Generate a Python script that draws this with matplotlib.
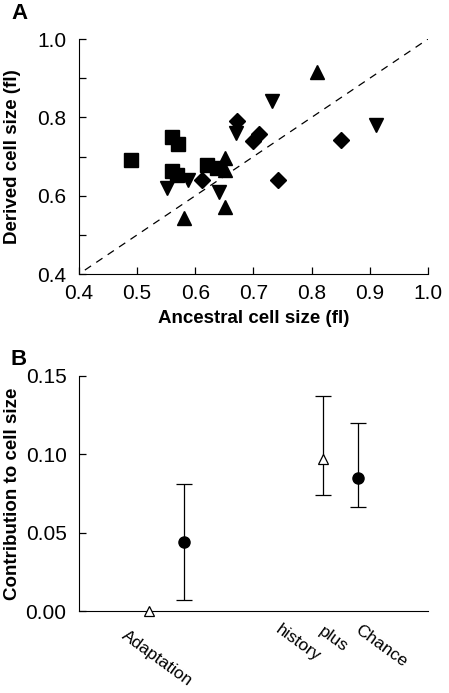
import matplotlib
matplotlib.use("Agg")
import matplotlib.pyplot as plt

plt.rcParams['font.family'] = ['Liberation Sans', 'DejaVu Sans']

# panel A: ancestral vs derived cell size, four groups
sq_anc = [0.49, 0.56, 0.57, 0.56, 0.568, 0.62, 0.637]
sq_der = [0.692, 0.751, 0.732, 0.662, 0.653, 0.679, 0.670]
up_anc = [0.81, 0.58, 0.651, 0.651, 0.651]
up_der = [0.915, 0.542, 0.572, 0.696, 0.666]
dn_anc = [0.732, 0.911, 0.670, 0.552, 0.588, 0.640]
dn_der = [0.841, 0.781, 0.761, 0.619, 0.640, 0.610]
di_anc = [0.671, 0.70, 0.71, 0.85, 0.742, 0.611]
di_der = [0.790, 0.740, 0.757, 0.741, 0.640, 0.641]

# panel B: contributions with error bars
b_pos = [1.0, 1.5, 3.5, 4.0]
b_val = [0.0, 0.044, 0.097, 0.085]
b_lo = [0.0, 0.007, 0.074, 0.066]
b_hi = [0.0, 0.081, 0.137, 0.120]
b_kind = ['tri', 'dot', 'tri', 'dot']
cat_labels = ['Adaptation', 'history', 'plus', 'Chance']
cat_pos = [0.70, 2.90, 3.52, 4.05]
cat_y = [-0.011, -0.007, -0.008, -0.007]

fig = plt.figure(figsize=(4.49, 6.93), dpi=100)
axA = fig.add_axes([0.176, 0.6046, 0.777, 0.339])
axB = fig.add_axes([0.176, 0.1183, 0.777, 0.3396])

for ax in (axA, axB):
    ax.spines['top'].set_visible(False)
    ax.spines['right'].set_visible(False)
    ax.tick_params(direction='in', labelsize=15, width=0.9)
    ax.tick_params(axis='y', pad=9)

ms = 9.5
axA.plot([0.41, 1.0], [0.41, 1.0], color='black', ls=(0, (6, 5)), lw=0.9)
axA.plot(sq_anc, sq_der, 's', color='black', ms=ms, clip_on=False)
axA.plot(up_anc, up_der, '^', color='black', ms=ms + 1, clip_on=False)
axA.plot(dn_anc, dn_der, 'v', color='black', ms=ms + 1, clip_on=False)
axA.plot(di_anc, di_der, 'D', color='black', ms=ms - 1.5, clip_on=False)
axA.set_xlim(0.4, 1.0)
axA.set_ylim(0.4, 1.0)
axA.set_xticks([0.4, 0.5, 0.6, 0.7, 0.8, 0.9, 1.0])
axA.set_yticks([0.4, 0.5, 0.6, 0.7, 0.8, 0.9, 1.0])
axA.set_yticklabels(['0.4', '', '0.6', '', '0.8', '', '1.0'])
axA.tick_params(axis='both', length=5)
axA.tick_params(axis='x', pad=7)
axA.set_xlabel('Ancestral cell size (fl)', fontsize=13.5, fontweight='bold')
axA.xaxis.set_label_coords(0.5, -0.155)
axA.set_ylabel('Derived cell size (fl)', fontsize=13.5, fontweight='bold')
axA.yaxis.set_label_coords(-0.165, 0.5)
fig.text(0.026, 0.98, 'A', fontsize=16, fontweight='bold', va='center')

for p, v, lo, hi, k in zip(b_pos, b_val, b_lo, b_hi, b_kind):
    if hi > lo:
        axB.errorbar(p, v, yerr=[[v - lo], [hi - v]], fmt='none', ecolor='black',
                     elinewidth=0.9, capsize=5.5, capthick=0.9)
    if k == 'tri':
        axB.plot(p, v, '^', mfc='white', mec='black', ms=7.5, mew=0.9, clip_on=False, zorder=3)
    else:
        axB.plot(p, v, 'o', color='black', ms=8, clip_on=False, zorder=3)
axB.set_xlim(0, 5)
axB.set_ylim(0, 0.15)
axB.set_yticks([0, 0.05, 0.10, 0.15])
axB.set_yticklabels(['0.00', '0.05', '0.10', '0.15'])
axB.set_xticks([])
axB.tick_params(axis='y', length=5)
axB.spines['bottom'].set_linewidth(0.8)
for lab, x, y in zip(cat_labels, cat_pos, cat_y):
    axB.text(x, y, lab, rotation=-36, rotation_mode='anchor', ha='left', va='top',
             fontsize=12.5, clip_on=False)
axB.set_ylabel('Contribution to cell size', fontsize=13.5, fontweight='bold')
axB.yaxis.set_label_coords(-0.165, 0.5)
fig.text(0.024, 0.481, 'B', fontsize=16, fontweight='bold', va='center')

fig.savefig('out.png', dpi=100)
